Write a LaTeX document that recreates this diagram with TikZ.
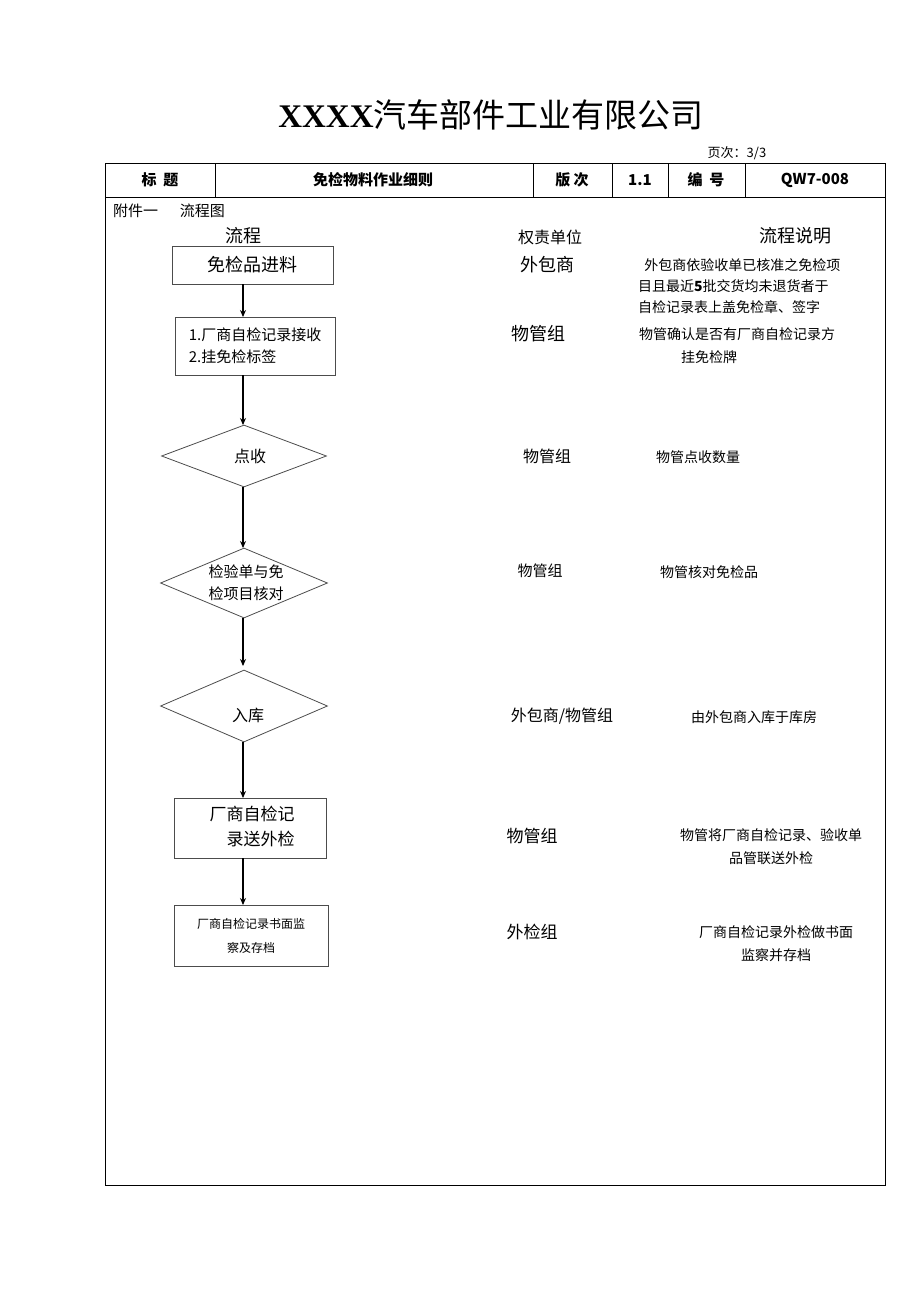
\documentclass[tikz,border=0pt]{standalone}
\usepackage{fontspec}
\setmainfont{Liberation Serif}
\newfontfamily\cjk{Noto Sans CJK SC}
\usetikzlibrary{shapes.geometric,arrows.meta}
\begin{document}
\begin{tikzpicture}[x=1pt,y=-1pt,
  box/.style={draw=black!70,line width=0.8pt},
  arr/.style={-{Stealth[length=7pt,width=6pt]},line width=1.2pt},
  t/.style={inner sep=0pt,font=\cjk\fontsize{14}{17}\selectfont},
  tl/.style={inner sep=0pt,font=\cjk\fontsize{18}{22}\selectfont},
  hd/.style={inner sep=0pt,font=\cjk\bfseries\fontsize{15}{18}\selectfont}]
\useasboundingbox (0,0) rectangle (920,1301);
\node[inner sep=0pt] (title) at (491,115) {\fontsize{33}{36}\selectfont\textbf{XXXX}{\cjk 汽车部件工业有限公司}};
\node[inner sep=0pt,font=\cjk\fontsize{13}{15}\selectfont] (page) at (737,153) {页次：3/3};
\draw[line width=0.8pt] (105,163) rectangle (885,1185);
\draw[line width=0.8pt] (105,197) -- (885,197);
\foreach \x in {215,533,612,668,745} \draw[line width=0.8pt] (\x,163) -- (\x,197);
\node[hd] (h1) at (160,180) {标\ \ 题};
\node[hd] (h2) at (373,180) {免检物料作业细则};
\node[hd] (h3) at (572,180) {版\ 次};
\node[hd] (h4) at (640,180) {1.1};
\node[hd] (h5) at (706,180) {编\ \ 号};
\node[hd] (h6) at (815,180) {QW7-008};
\node[t,anchor=west,font=\cjk\fontsize{15}{18}\selectfont] (att) at (113,211) {附件一\quad\ \ 流程图};
\node[tl] (c1) at (243,236) {流程};
\node[t,font=\cjk\fontsize{16}{19}\selectfont] (c2) at (550,237) {权责单位};
\node[tl] (c3) at (795,236) {流程说明};
% flow
\node[box,tl,minimum width=161pt,minimum height=38pt] (b1) at (252.5,265) {免检品进料};
\node[box,t,minimum width=160pt,minimum height=58pt,align=left,font=\cjk\fontsize{15}{22}\selectfont] (b2) at (255,346) {1.厂商自检记录接收\\ 2.挂免检标签};
\node[box,diamond,aspect=2.6,inner sep=0pt,minimum width=165pt,minimum height=62pt] (d1) at (244,456) {};
\node[t,font=\cjk\fontsize{16}{19}\selectfont] at (250,456) {点收};
\node[box,diamond,aspect=2.4,inner sep=0pt,minimum width=167pt,minimum height=70pt] (d2) at (244,583) {};
\node[t,align=center,font=\cjk\fontsize{15}{22}\selectfont] at (246,583) {检验单与免\\ 检项目核对};
\node[box,diamond,aspect=2.3,inner sep=0pt,minimum width=167pt,minimum height=72pt] (d3) at (244,706) {};
\node[t,font=\cjk\fontsize{16}{19}\selectfont] at (248,715) {入库};
\node[box,minimum width=152pt,minimum height=60pt] (b3) at (250,828) {};
\node[tl,align=left,font=\cjk\fontsize{17}{25}\selectfont] at (252,826) {厂商自检记\\ \quad 录送外检};
\node[box,minimum width=154pt,minimum height=61pt,t,align=center,font=\cjk\fontsize{12}{24}\selectfont] (b4) at (251,935.5) {厂商自检记录书面监\\ 察及存档};
\draw[arr] (243,284) -- (243,317);
\draw[arr] (243,375) -- (243,425);
\draw[arr] (243,487) -- (243,548);
\draw[arr] (243,618) -- (243,666);
\draw[arr] (243,742) -- (243,798);
\draw[arr] (243,858) -- (243,905);
% responsibility
\node[tl] (r1) at (547,265) {外包商};
\node[tl] (r2) at (538,334) {物管组};
\node[t,font=\cjk\fontsize{16}{19}\selectfont] (r3) at (547,456) {物管组};
\node[t,font=\cjk\fontsize{15}{18}\selectfont] (r4) at (540,571) {物管组};
\node[t,font=\cjk\fontsize{16}{19}\selectfont] (r5) at (562,716) {外包商/物管组};
\node[tl,font=\cjk\fontsize{17}{20}\selectfont] (r6) at (532,836) {物管组};
\node[tl,font=\cjk\fontsize{17}{20}\selectfont] (r7) at (532,932) {外检组};
% descriptions
\node[t,align=left,anchor=north west,font=\cjk\fontsize{14}{21}\selectfont] (e1) at (638,258) {\ \ 外包商依验收单已核准之免检项\\目且最近\textbf{5}批交货均未退货者于\\自检记录表上盖免检章、签字};
\node[t,align=left,anchor=north west,font=\cjk\fontsize{14}{23}\selectfont] (e2) at (639,327) {物管确认是否有厂商自检记录方\\\qquad\quad 挂免检牌};
\node[t] (e3) at (698,457) {物管点收数量};
\node[t] (e4) at (709,572) {物管核对免检品};
\node[t] (e5) at (754,717) {由外包商入库于库房};
\node[t,align=center,font=\cjk\fontsize{14}{23}\selectfont] (e6) at (771,847) {物管将厂商自检记录、验收单\\品管联送外检};
\node[t,align=center,font=\cjk\fontsize{14}{23}\selectfont] (e7) at (776,944) {厂商自检记录外检做书面\\监察并存档};
\end{tikzpicture}
\end{document}
